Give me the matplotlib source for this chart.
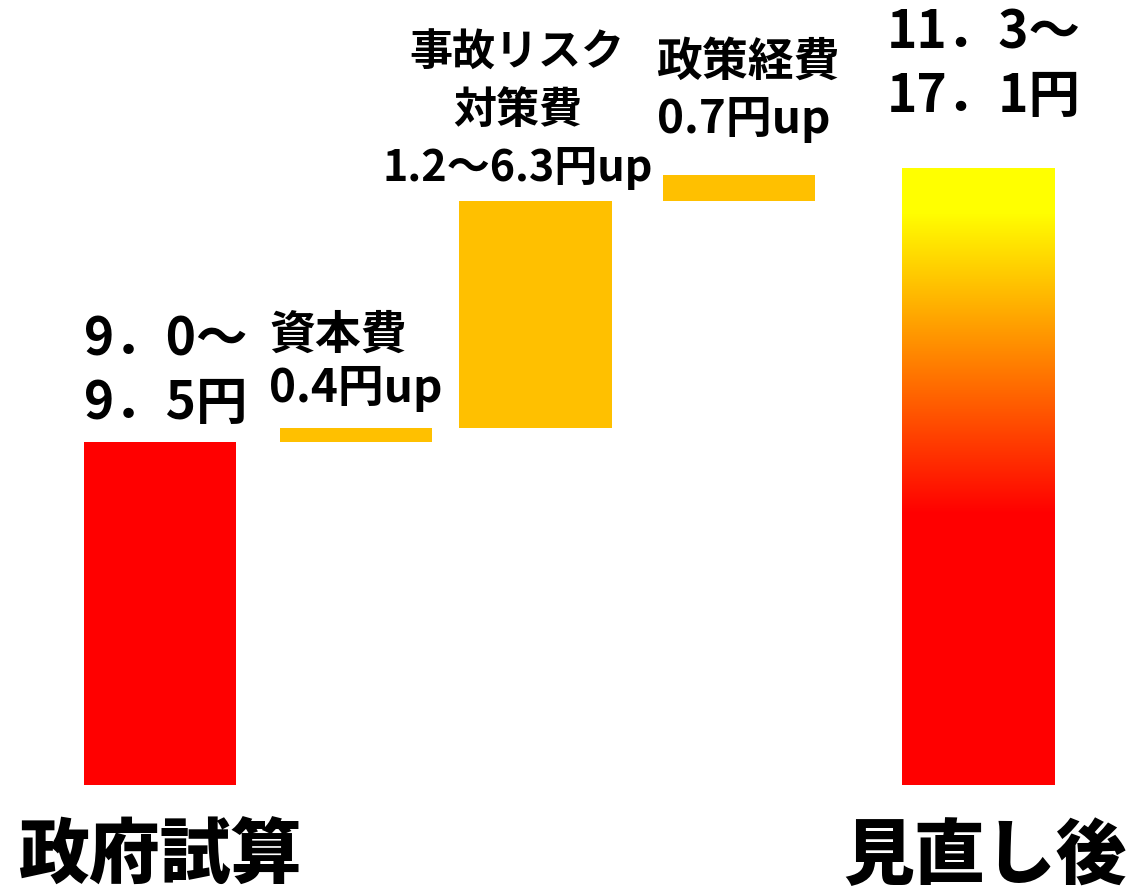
import numpy as np
import matplotlib
matplotlib.use("Agg")
import matplotlib.pyplot as plt
from matplotlib.colors import LinearSegmentedColormap

plt.rcParams['font.family'] = ['Noto Sans CJK JP', 'DejaVu Sans']

# 発電コスト（円/kWh）: 政府試算 → 各項目の上乗せ → 見直し後
base_value = 9.5
step_values = [0.4, 6.3, 0.7]
total_value = 17.1

base_label = "9．0～\n9．5円"
step_labels = ["資本費\n0.4円up", "事故リスク\n対策費\n1.2～6.3円up", "政策経費\n0.7円up"]
total_label = "11．3～\n17．1円"
bottom_labels = ["政府試算", "見直し後"]

# bar centres (in bar widths)
x_pos = [0.0, 1.29, 2.47, 3.81, 5.38]

fig = plt.figure(figsize=(11.28, 8.96), dpi=100)
ax = fig.add_axes([0, 0, 1, 1])
ax.set_xlim(-1.053, 6.368)
ax.set_ylim(-3.08, 21.76)
ax.axis("off")

# base bar
ax.bar(x_pos[0], base_value, width=1.0, color="#FF0000")

# stacked increments
bottoms = base_value + np.concatenate([[0], np.cumsum(step_values)[:-1]])
ax.bar(x_pos[1:4], step_values, bottom=bottoms, width=1.0, color="#FFC000")

# final bar with yellow-to-red gradient
cmap = LinearSegmentedColormap.from_list(
    "fire", [(0.0, "#FF0000"), (0.44, "#FF0000"), (0.93, "#FFFF00"), (1.0, "#FFFF00")])
grad = np.linspace(0, 1, 256).reshape(-1, 1)
ax.imshow(grad, cmap=cmap, origin="lower", aspect="auto",
          extent=[x_pos[4] - 0.5, x_pos[4] + 0.5, 0, total_value], zorder=2)

# value labels
ax.text(x_pos[0] + 0.04, base_value + 0.35, base_label, ha="center", va="bottom",
        multialignment="left", fontsize=37, fontweight="bold", linespacing=1.25)
ax.text(x_pos[4] + 0.04, total_value + 1.25, total_label, ha="center", va="bottom",
        multialignment="left", fontsize=37, fontweight="bold", linespacing=1.25)

step_tops = bottoms + np.array(step_values)
ax.text(x_pos[1], step_tops[0] + 0.45, step_labels[0], ha="center", va="bottom",
        multialignment="left", fontsize=33, fontweight="bold")
ax.text(x_pos[2] - 0.12, step_tops[1] + 0.3, step_labels[1], ha="center", va="bottom",
        multialignment="center", fontsize=31, fontweight="bold", linespacing=1.38)
ax.text(x_pos[3] + 0.06, step_tops[2] + 0.9, step_labels[2], ha="center", va="bottom",
        multialignment="left", fontsize=33, fontweight="bold", linespacing=1.3)

# category labels under the end bars
ax.text(x_pos[0], -2.0, bottom_labels[0], ha="center", va="center",
        fontsize=51, fontweight="black")
ax.text(x_pos[4] + 0.05, -2.0, bottom_labels[1], ha="center", va="center",
        fontsize=51, fontweight="black")

fig.savefig("out.png", dpi=100)
